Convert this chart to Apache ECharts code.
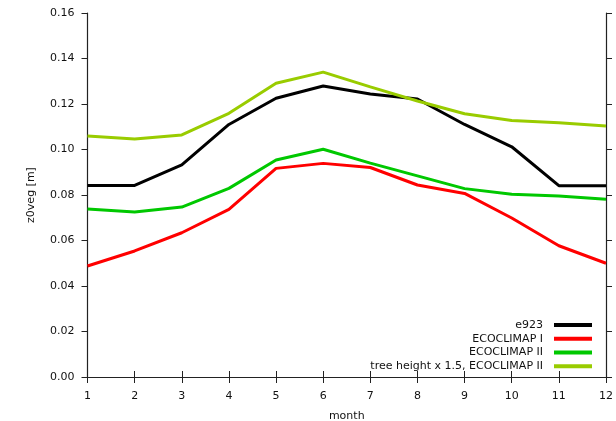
<!DOCTYPE html>
<html><head><meta charset="utf-8">
<script src="https://cdn.jsdelivr.net/npm/echarts@6/dist/echarts.min.js"></script>
<style>html,body{margin:0;padding:0;background:#fff}#c{width:616px;height:421px}</style>
</head><body><div id="c"></div>
<script>
const months = ['1','2','3','4','5','6','7','8','9','10','11','12'];
const e923 = [0.0842, 0.0842, 0.0932, 0.111, 0.1225, 0.1279, 0.1244, 0.1222, 0.111, 0.1012, 0.0841, 0.0841];
const ecoclimap1 = [0.0488, 0.0554, 0.0634, 0.0737, 0.0917, 0.0939, 0.0921, 0.0844, 0.0807, 0.0699, 0.0577, 0.0500];
const ecoclimap2 = [0.0738, 0.0725, 0.0747, 0.0829, 0.0954, 0.1001, 0.0940, 0.0884, 0.0828, 0.0803, 0.0796, 0.0781];
const treeHeight = [0.1059, 0.1046, 0.1064, 0.1159, 0.1291, 0.1340, 0.1275, 0.1213, 0.1157, 0.1127, 0.1118, 0.1103];
const yTicks = [0, 0.02, 0.04, 0.06, 0.08, 0.10, 0.12, 0.14, 0.16];

const font = 'DejaVu Sans';
const chart = echarts.init(document.getElementById('c'));
const axisLine = {show:true, lineStyle:{color:'#222', width:1.2}};
const mk = (name, data, color) => ({
  name, type:'line', data, symbol:'none', showSymbol:false,
  lineStyle:{color, width:3}, itemStyle:{color}, animation:false
});
chart.setOption({
  animation:false,
  textStyle:{fontFamily:font},
  grid:{left:87.5, right:10, top:13, bottom:44, containLabel:false, outerBoundsMode:'none'},
  legend:{
    orient:'vertical', right:19, bottom:43, align:'right',
    itemWidth:38, itemHeight:4, itemGap:0, icon:'rect',
    textStyle:{fontFamily:font, fontSize:11, color:'#111', lineHeight:13.7, padding:[0,6,0,0]},
    data:['e923','ECOCLIMAP I','ECOCLIMAP II','tree height x 1.5, ECOCLIMAP II']
  },
  xAxis:[{
    type:'category', data:months, boundaryGap:false,
    name:'month', nameLocation:'middle', nameGap:34,
    nameTextStyle:{fontFamily:font, fontSize:11, color:'#111'},
    axisLine, axisTick:{show:true, alignWithLabel:true, length:6, lineStyle:{color:'#222'}},
    axisLabel:{fontFamily:font, fontSize:11, color:'#111', margin:14},
    splitLine:{show:false}
  },{
    type:'category', data:months, boundaryGap:false, position:'top',
    axisLine, axisTick:{show:true, length:6, lineStyle:{color:'#222'}},
    axisLabel:{show:false}, splitLine:{show:false}
  }],
  yAxis:[{
    type:'value', min:0, max:0.16, interval:0.02,
    name:'z0veg [m]', nameLocation:'middle', nameGap:51, nameRotate:90,
    nameTextStyle:{fontFamily:font, fontSize:11, color:'#111'},
    axisLine, axisTick:{show:true, length:6, lineStyle:{color:'#222'}},
    axisLabel:{fontFamily:font, fontSize:11, color:'#111', margin:13,
      formatter:v=>v.toFixed(2)},
    splitLine:{show:false}
  },{
    type:'value', min:0, max:0.16, interval:0.02, position:'right',
    axisLine, axisTick:{show:true, length:6, lineStyle:{color:'#222'}},
    axisLabel:{show:false}, splitLine:{show:false}
  }],
  series:[
    mk('e923', e923, '#000000'),
    mk('ECOCLIMAP I', ecoclimap1, '#ff0000'),
    mk('ECOCLIMAP II', ecoclimap2, '#00c800'),
    mk('tree height x 1.5, ECOCLIMAP II', treeHeight, '#99cc00')
  ]
});
</script></body></html>
